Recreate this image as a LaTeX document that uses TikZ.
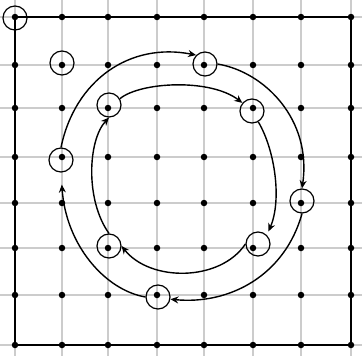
\documentclass[tikz,border=0pt]{standalone}
\usetikzlibrary{arrows.meta}
\begin{document}
\begin{tikzpicture}[x=1pt,y=-1pt,
  gridline/.style={draw=black!20,line width=1.6pt},
  dot/.style={circle,fill=black,inner sep=0pt,minimum size=6.5pt},
  ring/.style={circle,draw=black,line width=1.2pt,inner sep=0pt,minimum size=24pt},
  frame/.style={draw=black,line width=2.8pt,line join=round},
  flow/.style={draw=black,line width=1.4pt,-{Stealth[length=8pt,width=7pt]}}]
\useasboundingbox (0,0) rectangle (362,356);
\fill[white] (0,0) rectangle (362,356);
% graph paper
\foreach \x in {15,62,108,157,204,253,301,351} \draw[gridline] (\x,0) -- (\x,356);
\foreach \y in {17,65,108,157,203,248,295,345} \draw[gridline] (0,\y) -- (362,\y);
% dots
\foreach \x [count=\i] in {15,62,108,157,204,253,301,351}
  \foreach \y [count=\j] in {17,65,108,157,203,248,295,345}
    \node[dot] (d-\i-\j) at (\x,\y) {};
% outer frame
\draw[frame] (d-1-1.center) -- (d-8-1.center) -- (d-8-8.center) -- (d-1-8.center) -- cycle;
% circled points
\node[ring] (K) at (15,18) {};
\node[ring] (L) at (62,63) {};
\node[ring] (A) at (61,160) {};
\node[ring] (B) at (205,64) {};
\node[ring] (C) at (302,201) {};
\node[ring] (D) at (158,297) {};
\node[ring] (E) at (109,105) {};
\node[ring] (F) at (252,111) {};
\node[ring] (G) at (258,244) {};
\node[ring] (H) at (109,246) {};
% outer loop
\draw[flow] (A.north) .. controls (75,80) and (130,42) .. (B.135);
\draw[flow] (B.east) .. controls (265,72) and (312,120) .. (C.north);
\draw[flow] (C.south) .. controls (285,275) and (230,305) .. (D.-10);
\draw[flow,shorten >=12pt] (D.west) .. controls (105,290) and (66,245) .. (A.south);
% inner loop
\draw[flow] (E.30) .. controls (140,82) and (210,78) .. (F.140);
\draw[flow,shorten >=4pt] (F.-60) .. controls (275,150) and (282,200) .. (G.north east);
\draw[flow] (G.west) .. controls (220,282) and (150,282) .. (H.east);
\draw[flow] (H.north) .. controls (85,200) and (88,140) .. (E.south);
\end{tikzpicture}
\end{document}
